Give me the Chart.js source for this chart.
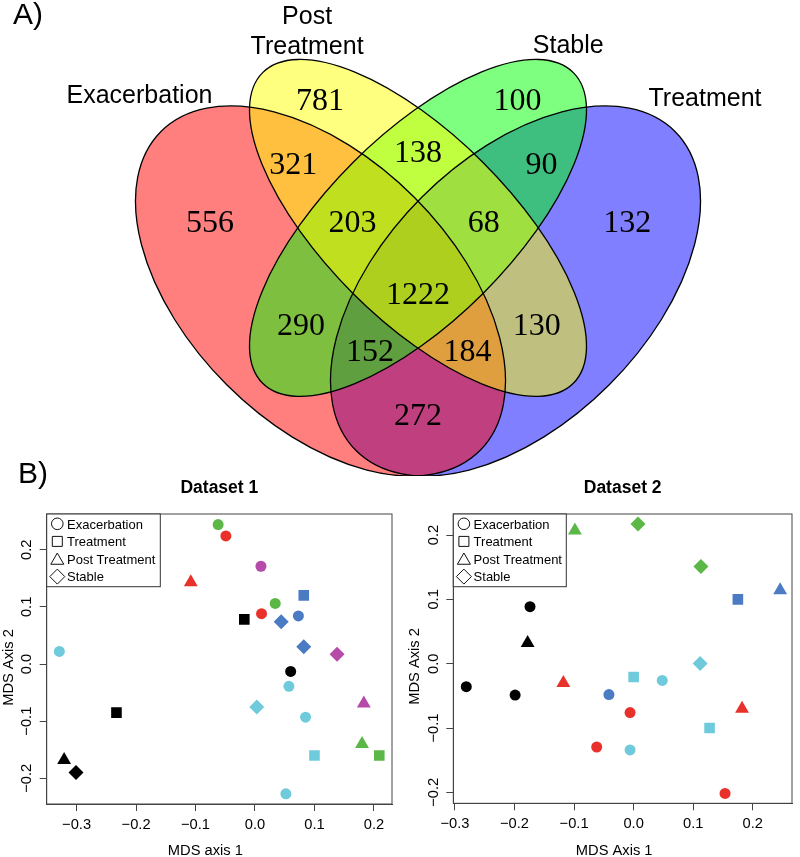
<!DOCTYPE html>
<html>
<head>
<meta charset="utf-8">
<script src="https://cdn.jsdelivr.net/npm/chart.js@4.4.0/dist/chart.umd.min.js"></script>
<style>
html,body{margin:0;padding:0;background:#fff;}
#wrap{position:relative;width:800px;height:857px;overflow:hidden;background:#fff;}
.cv{position:absolute;}
.panel{position:absolute;font-family:'Liberation Sans',Arial,sans-serif;font-size:30px;line-height:30px;color:#000;font-weight:300;white-space:nowrap;}
</style>
</head>
<body>
<div id="wrap">
  <canvas id="venn" class="cv" width="800" height="476" style="left:0;top:0;width:800px;height:476px"></canvas>
  <canvas id="plot1" class="cv" width="400" height="381" style="left:0;top:476px;width:400px;height:381px"></canvas>
  <canvas id="plot2" class="cv" width="400" height="381" style="left:400px;top:476px;width:400px;height:381px"></canvas>
  <div class="panel" style="left:13px;top:-1px">A)</div>
  <div class="panel" style="left:18px;top:458px">B)</div>
</div>
<script>
// ================= DATA =================
// Venn diagram (panel A)
const vennSetNames   = ['Exacerbation', 'Post Treatment', 'Stable', 'Treatment'];
const vennRegionSets = ['E', 'P', 'S', 'T', 'EP', 'PS', 'ST', 'ES', 'PT', 'ET', 'EPS', 'PST', 'EST', 'EPT', 'EPST'];
const vennCounts     = [556, 781, 100, 132, 321, 138, 90, 290, 130, 272, 203, 68, 152, 184, 1222];

// MDS plots (panel B)
const groupNames = ['Exacerbation', 'Treatment', 'Post Treatment', 'Stable'];

const xTicks1 = [-0.3, -0.2, -0.1, 0.0, 0.1, 0.2];
const xTickLabels1 = ['\u22120.3', '\u22120.2', '\u22120.1', '0.0', '0.1', '0.2'];
const yTicks1 = [-0.2, -0.1, 0.0, 0.1, 0.2];
const yTickLabels1 = ['\u22120.2', '\u22120.1', '0.0', '0.1', '0.2'];
const xTicks2 = [-0.3, -0.2, -0.1, 0.0, 0.1, 0.2];
const xTickLabels2 = ['\u22120.3', '\u22120.2', '\u22120.1', '0.0', '0.1', '0.2'];
const yTicks2 = [-0.2, -0.1, 0.0, 0.1, 0.2];
const yTickLabels2 = ['\u22120.2', '\u22120.1', '0.0', '0.1', '0.2'];

// Dataset 1
const d1Group = ['Exacerbation','Exacerbation','Exacerbation','Exacerbation','Exacerbation','Exacerbation','Exacerbation','Exacerbation','Exacerbation','Exacerbation','Exacerbation',
                 'Treatment','Treatment','Treatment','Treatment','Treatment',
                 'Post Treatment','Post Treatment','Post Treatment','Post Treatment',
                 'Stable','Stable','Stable','Stable','Stable'];
const d1Patient = ['P3','P2','P6','P3','P2','P4','P5','P1','P5','P5','P5',
                   'P4','P1','P1','P5','P3',
                   'P2','P6','P3','P1',
                   'P4','P4','P6','P5','P1'];
const d1X = [-0.062, -0.049, 0.010, 0.034, 0.011, 0.073, -0.329, 0.060, 0.057, 0.085, 0.052,
             0.082, -0.018, -0.233, 0.100, 0.209,
             -0.108, 0.183, 0.180, -0.321,
             0.044, 0.082, 0.138, 0.003, -0.301];
const d1Y = [0.244, 0.224, 0.171, 0.106, 0.088, 0.084, 0.022, -0.013, -0.039, -0.093, -0.227,
             0.120, 0.078, -0.085, -0.160, -0.160,
             0.143, -0.069, -0.140, -0.168,
             0.074, 0.030, 0.017, -0.075, -0.190];

// Dataset 2
const d2Group = ['Exacerbation','Exacerbation','Exacerbation','Exacerbation','Exacerbation','Exacerbation','Exacerbation','Exacerbation','Exacerbation',
                 'Treatment','Treatment','Treatment',
                 'Post Treatment','Post Treatment','Post Treatment','Post Treatment','Post Treatment',
                 'Stable','Stable','Stable'];
const d2Patient = ['P1','P1','P1','P5','P4','P2','P2','P5','P2',
                   'P4','P5','P5',
                   'P3','P4','P1','P2','P2',
                   'P3','P3','P5'];
const d2X = [-0.174, -0.281, -0.199, 0.048, -0.0415, -0.006, -0.062, -0.006, 0.1535,
             0.175, 0.000, 0.1275,
             -0.0986, 0.246, -0.178, -0.118, 0.182,
             0.0073, 0.113, 0.1116];
const d2Y = [0.0886, -0.0358, -0.0487, -0.026, -0.048, -0.076, -0.1295, -0.134, -0.2016,
             0.100, -0.0207, -0.100,
             0.207, 0.114, 0.032, -0.030, -0.070,
             0.217, 0.151, 0.0005];

// ================= STYLE / LAYOUT =================
const FONT_SANS  = "'Liberation Sans', Arial, Helvetica, sans-serif";
const FONT_SERIF = "'Liberation Serif', 'Times New Roman', Times, serif";

const patientColours = { P1: '#000000', P2: '#e8312a', P3: '#5bb846', P4: '#4a7bc3', P5: '#6fcbdc', P6: '#b54aa9' };
const groupMarker = {
  'Exacerbation':   { style: 'circle',   r: 5.5, lr: 5.8 },
  'Treatment':      { style: 'rect',     r: 7.5, lr: 5.0 },
  'Post Treatment': { style: 'triangle', r: 8.0, lr: 7.5 },
  'Stable':         { style: 'rectRot',  r: 7.5, lr: 7.5 }
};

// Venn geometry (units of the Venn scales)
const VENN_ELLIPSES = [ // drawn in this order
  { set: 'Treatment',      cx: 0.65, cy: 0.470, a: 0.347, b: 0.204, angle: 45,  fill: 'rgba(0,0,255,0.5)' },
  { set: 'Exacerbation',   cx: 0.35, cy: 0.470, a: 0.347, b: 0.204, angle: 135, fill: 'rgba(255,0,0,0.5)' },
  { set: 'Stable',         cx: 0.50, cy: 0.567, a: 0.338, b: 0.142, angle: 45,  fill: 'rgba(0,255,0,0.5)' },
  { set: 'Post Treatment', cx: 0.50, cy: 0.567, a: 0.338, b: 0.142, angle: 135, fill: 'rgba(255,255,0,0.5)' }
];
const VENN_LABEL_POS = {
  E: [0.180, 0.5777], P: [0.3492, 0.7654], S: [0.6531, 0.7654], T: [0.822, 0.5777],
  EP: [0.3081, 0.6669], PS: [0.500, 0.6854], ST: [0.690, 0.6669],
  ES: [0.320, 0.4192], PT: [0.6826, 0.4192], ET: [0.500, 0.2797],
  EPS: [0.3992, 0.5777], PST: [0.6011, 0.5777], EST: [0.4262, 0.3792], EPT: [0.5762, 0.3792],
  EPST: [0.500, 0.4669]
};
const VENN_SET_LABEL_POS = {
  'Exacerbation':   [[0.0715, 0.7731]],
  'Post Treatment': [[0.3294, 0.8946], [0.3294, 0.8480]],
  'Stable':         [[0.7312, 0.8497]],
  'Treatment':      [[0.9415, 0.7677]]
};

// ================= VENN CHART =================
const vennPlugin = {
  id: 'vennDraw',
  beforeDatasetsDraw(chart) {
    const ctx = chart.ctx, xs = chart.scales.x, ys = chart.scales.y;
    const ppu = Math.abs(xs.getPixelForValue(1) - xs.getPixelForValue(0));
    const path = e => {
      ctx.beginPath();
      ctx.ellipse(xs.getPixelForValue(e.cx), ys.getPixelForValue(e.cy), e.a * ppu, e.b * ppu,
                  -e.angle * Math.PI / 180, 0, 2 * Math.PI);
    };
    ctx.save();
    VENN_ELLIPSES.forEach(e => { path(e); ctx.fillStyle = e.fill; ctx.fill(); });
    ctx.strokeStyle = '#000'; ctx.lineWidth = 1.3;
    VENN_ELLIPSES.forEach(e => { path(e); ctx.stroke(); });
    ctx.restore();
  },
  afterDatasetsDraw(chart) {
    const ctx = chart.ctx, xs = chart.scales.x, ys = chart.scales.y;
    const meta = chart.getDatasetMeta(0);
    ctx.save();
    ctx.fillStyle = '#000';
    ctx.textAlign = 'center';
    ctx.textBaseline = 'alphabetic';
    ctx.font = '32px ' + FONT_SERIF;
    meta.data.forEach((pt, i) => {
      ctx.fillText(String(vennCounts[i]), pt.x, pt.y + 10.8);
    });
    ctx.font = '25px ' + FONT_SANS;
    vennSetNames.forEach(name => {
      const pos = VENN_SET_LABEL_POS[name];
      const lines = pos.length > 1 ? name.split(' ') : [name];
      lines.forEach((ln, k) => {
        ctx.fillText(ln, xs.getPixelForValue(pos[k][0]), ys.getPixelForValue(pos[k][1]) + 9);
      });
    });
    ctx.restore();
  }
};

new Chart(document.getElementById('venn'), {
  type: 'scatter',
  data: {
    datasets: [{
      data: vennRegionSets.map((r, i) => ({ x: VENN_LABEL_POS[r][0], y: VENN_LABEL_POS[r][1], count: vennCounts[i] })),
      pointRadius: 0, pointHoverRadius: 0
    }]
  },
  options: {
    responsive: false, animation: false, devicePixelRatio: 1, events: [],
    layout: { padding: 0 },
    plugins: { legend: { display: false }, tooltip: { enabled: false }, title: { display: false } },
    scales: {
      x: { type: 'linear', display: false, min: -0.143077, max: 1.087692 },
      y: { type: 'linear', display: false, min: 0.185385, max: 0.917692 }
    }
  },
  plugins: [vennPlugin]
});

// ================= SCATTER CHARTS =================
function drawOpenShape(ctx, style, x, y, r) {
  ctx.beginPath();
  if (style === 'circle') ctx.arc(x, y, r, 0, 2 * Math.PI);
  else if (style === 'rect') ctx.rect(x - r, y - r, 2 * r, 2 * r);
  else if (style === 'triangle') { ctx.moveTo(x, y - r); ctx.lineTo(x + r * 0.866, y + r * 0.5); ctx.lineTo(x - r * 0.866, y + r * 0.5); ctx.closePath(); }
  else if (style === 'rectRot') { ctx.moveTo(x, y - r); ctx.lineTo(x + r, y); ctx.lineTo(x, y + r); ctx.lineTo(x - r, y); ctx.closePath(); }
  ctx.stroke();
}

const decorPlugin = {
  id: 'plotDecor',
  afterDraw(chart, args, o) {
    const ctx = chart.ctx, ca = chart.chartArea, ys = chart.scales.y;
    const cx = (ca.left + ca.right) / 2, cy = (ca.top + ca.bottom) / 2;
    ctx.save();
    // box
    ctx.strokeStyle = '#444'; ctx.lineWidth = 1;
    ctx.strokeRect(ca.left, ca.top, ca.right - ca.left, ca.bottom - ca.top);
    // title
    ctx.fillStyle = '#000';
    ctx.textAlign = 'center'; ctx.textBaseline = 'alphabetic';
    ctx.font = 'bold 17.5px ' + FONT_SANS;
    ctx.fillText(o.title, cx, o.titleBaseline);
    // x axis title
    ctx.font = '14.7px ' + FONT_SANS;
    ctx.fillText(o.xTitle, cx + o.xTitleDx, o.xTitleBaseline);
    // y tick labels (rotated)
    ys.ticks.forEach((t, i) => {
      const y = ys.getPixelForValue(t.value);
      ctx.save();
      ctx.translate(ca.left - o.yTickDist, y);
      ctx.rotate(-Math.PI / 2);
      ctx.fillText(o.yTickLabels[i], 0, 5.2);
      ctx.restore();
    });
    // y axis title (rotated)
    ctx.save();
    ctx.translate(ca.left - o.yTitleDist, cy + o.yTitleDy);
    ctx.rotate(-Math.PI / 2);
    ctx.fillText(o.yTitle, 0, 5.2);
    ctx.restore();
    // legend
    const lx = ca.left, ly = ca.top;
    ctx.fillStyle = '#fff';
    ctx.fillRect(lx, ly, o.legendW, o.legendH);
    ctx.strokeStyle = '#333'; ctx.lineWidth = 1;
    ctx.strokeRect(lx, ly, o.legendW, o.legendH);
    ctx.font = '13px ' + FONT_SANS;
    ctx.textAlign = 'left';
    ctx.fillStyle = '#000';
    groupNames.forEach((g, i) => {
      const ry = ly + 9.8 + 17.6 * i;
      const m = groupMarker[g];
      ctx.strokeStyle = '#111'; ctx.lineWidth = 1;
      drawOpenShape(ctx, m.style, lx + 10.6, ry + (m.style === 'triangle' ? 1.5 : 0), m.lr);
      ctx.fillText(g, lx + 20.3, ry + 4.7);
    });
    ctx.restore();
  }
};

function makeScatter(id, d, L) {
  const datasets = groupNames.map(g => {
    const idx = d.group.map((v, i) => i).filter(i => d.group[i] === g);
    const cols = idx.map(i => patientColours[d.patient[i]]);
    return {
      label: g,
      data: idx.map(i => ({ x: d.x[i], y: d.y[i] })),
      pointStyle: groupMarker[g].style,
      pointRadius: groupMarker[g].r,
      pointHoverRadius: groupMarker[g].r,
      pointBackgroundColor: cols,
      pointBorderColor: cols,
      pointBorderWidth: 0
    };
  });
  // draw order: circles on top last? keep given order
  const axisGrid = { display: true, drawOnChartArea: false, drawTicks: true, tickLength: 7, color: '#444', lineWidth: 1 };
  new Chart(document.getElementById(id), {
    type: 'scatter',
    data: { datasets },
    options: {
      responsive: false, animation: false, devicePixelRatio: 1, events: [],
      layout: { padding: { top: L.padTop, right: L.padRight, left: 0, bottom: 0 } },
      plugins: {
        legend: { display: false }, tooltip: { enabled: false }, title: { display: false },
        plotDecor: {
          title: d.title, titleBaseline: 17, xTitle: d.xTitle, yTitle: d.yTitle,
          xTitleDx: L.xTitleDx, xTitleBaseline: 379, yTitleDist: 39.2, yTitleDy: L.yTitleDy,
          yTickDist: 20.7, yTickLabels: d.yTickLabels, legendW: L.legendW, legendH: 72.7
        }
      },
      scales: {
        x: {
          type: 'linear', min: d.xRange[0], max: d.xRange[1],
          afterBuildTicks: s => { s.ticks = d.xTicks.map(v => ({ value: v })); },
          afterFit: s => { s.height = L.xAxisH; },
          ticks: { autoSkip: false, maxRotation: 0, padding: 4.7, color: '#000',
                   font: { family: FONT_SANS, size: 14.7 },
                   callback: (v, i) => d.xTickLabels[i] },
          grid: axisGrid,
          border: { display: true, color: '#444', width: 1 }
        },
        y: {
          type: 'linear', min: d.yRange[0], max: d.yRange[1],
          afterBuildTicks: s => { s.ticks = d.yTicks.map(v => ({ value: v })); },
          afterFit: s => { s.width = L.yAxisW; },
          ticks: { display: false },
          grid: axisGrid,
          border: { display: true, color: '#444', width: 1 }
        }
      }
    },
    plugins: [decorPlugin]
  });
}

makeScatter('plot1', {
  group: d1Group, patient: d1Patient, x: d1X, y: d1Y,
  title: 'Dataset 1', xTitle: 'MDS axis 1', yTitle: 'MDS Axis 2',
  xRange: [-0.3503, 0.2304], yRange: [-0.2449, 0.2624],
  xTicks: xTicks1, xTickLabels: xTickLabels1, yTicks: yTicks1, yTickLabels: yTickLabels1
}, { padTop: 38, padRight: 7.3, yAxisW: 46.7, xAxisH: 53, xTitleDx: -14, yTitleDy: 8.5, legendW: 113.6 });

makeScatter('plot2', {
  group: d2Group, patient: d2Patient, x: d2X, y: d2Y,
  title: 'Dataset 2', xTitle: 'MDS Axis 1', yTitle: 'MDS Axis 2',
  xRange: [-0.3028, 0.2659], yRange: [-0.2170, 0.2327],
  xTicks: xTicks2, xTickLabels: xTickLabels2, yTicks: yTicks2, yTickLabels: yTickLabels2
}, { padTop: 38, padRight: 1.3, yAxisW: 53.3, xAxisH: 53.7, xTitleDx: -8.5, yTitleDy: 7.8, legendW: 113 });
</script>
</body>
</html>
